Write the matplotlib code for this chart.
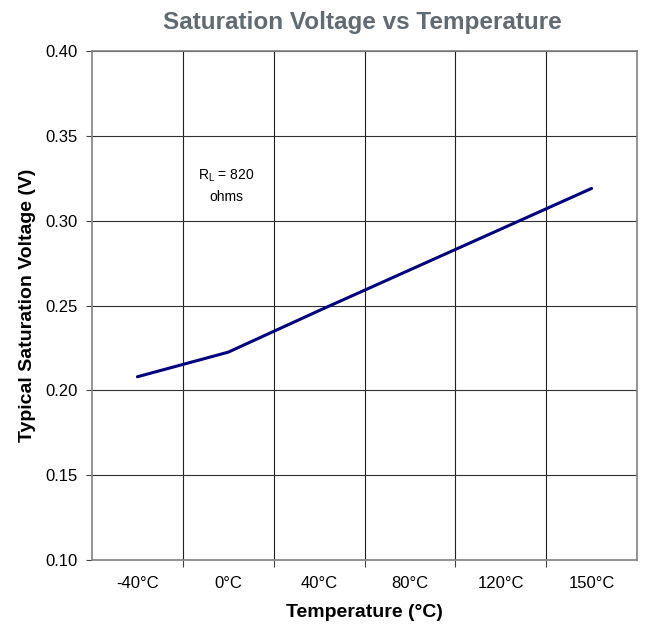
import matplotlib
matplotlib.use("Agg")
import matplotlib.pyplot as plt
import numpy as np

plt.rcParams['font.family'] = ['Liberation Sans', 'DejaVu Sans']

categories = ["-40°C", "0°C", "40°C", "80°C", "120°C", "150°C"]
voltage = [0.208, 0.2225, 0.247, 0.271, 0.295, 0.319]
y_ticks = [0.10, 0.15, 0.20, 0.25, 0.30, 0.35, 0.40]

fig = plt.figure(figsize=(6.48, 6.26), dpi=100)
ax = fig.add_axes([92/648, 66/626, 545/648, 509/626])

x = np.arange(len(categories))
ax.plot(x, voltage, color='#000080', lw=2.2, solid_capstyle='round', zorder=3)

ax.set_xlim(-0.5, len(categories) - 0.5)
ax.set_ylim(0.10, 0.40)
ax.set_yticks(y_ticks)
ax.set_yticklabels([f"{v:.2f}" for v in y_ticks], fontsize=12)
ax.set_xticks(x)
ax.set_xticklabels(categories, fontsize=12)
ax.tick_params(axis='x', which='major', length=0, pad=11.5)
ax.set_xticks(np.arange(0.5, len(categories) - 0.5, 1), minor=True)
ax.tick_params(axis='x', which='minor', length=5, width=0.8, color='#404040')
ax.tick_params(axis='y', length=4, width=0.8, color='#404040', pad=6)

ax.grid(True, axis='y', which='major', color='#303030', lw=0.8)
ax.grid(True, axis='x', which='minor', color='#202020', lw=0.8)
ax.grid(False, axis='x', which='major')
for s in ax.spines.values():
    s.set_color('#808080')
    s.set_linewidth(1.2)

fig.text((92 + 545/2) / 648 - 0.004, 1 - 22/626, "Saturation Voltage vs Temperature",
         fontsize=17.5, fontweight='bold', color='#5f6a72', ha='center', va='center')
ax.set_xlabel("Temperature (°C)", fontsize=14, fontweight='bold', labelpad=9.5)
ax.set_ylabel("Typical Saturation Voltage (V)", fontsize=14, fontweight='bold', labelpad=7)

ax.text(0.98, 0.3206, "R$_\\mathregular{L}$ = 820\nohms", fontsize=10, ha='center', va='center',
        linespacing=1.5)

fig.savefig("out.png", dpi=100)
